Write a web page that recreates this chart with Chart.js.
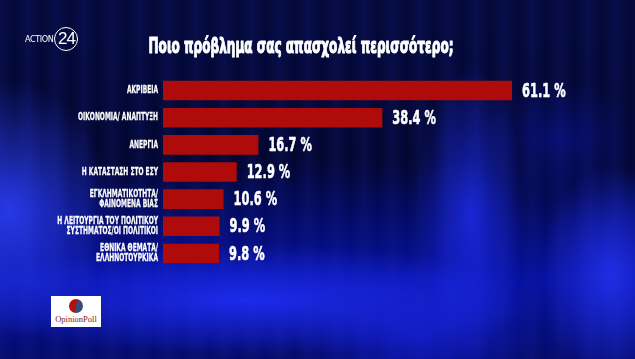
<!DOCTYPE html>
<html>
<head>
<meta charset="utf-8">
<script src="https://cdn.jsdelivr.net/npm/chart.js@4"></script>
<style>
  html, body { margin: 0; padding: 0; }
  body {
    width: 635px; height: 359px; overflow: hidden; position: relative;
    background:
      radial-gradient(ellipse 100px 130px at 10px 210px, rgba(45,65,255,0.85), rgba(0,0,0,0)),
      radial-gradient(ellipse 300px 55px at 250px 300px, rgba(30,45,245,0.9), rgba(0,0,0,0)),
      radial-gradient(ellipse 55px 150px at 470px 215px, rgba(30,45,240,0.8), rgba(0,0,0,0)),
      radial-gradient(ellipse 70px 110px at 610px 275px, rgba(35,50,240,0.85), rgba(0,0,0,0)),
      radial-gradient(ellipse 120px 70px at 420px 335px, rgba(20,30,210,0.8), rgba(0,0,0,0)),
      radial-gradient(ellipse 80px 60px at 560px 140px, rgba(10,20,150,0.6), rgba(0,0,0,0)),
      repeating-linear-gradient(90deg, rgba(30,40,160,0.18) 0px, rgba(0,0,0,0) 14px, rgba(30,40,160,0.18) 28px),
      linear-gradient(180deg, #030938 0%, #020630 45%, #0510a0 78%, #040b6a 100%);
  }
  canvas { position: absolute; left: 0; top: 0; }
  .action { position: absolute; left: 25px; top: 27px; color: #fff; font: 9px "DejaVu Sans Condensed", "DejaVu Sans", sans-serif; letter-spacing: -0.4px; }
  .action span { display: inline-block; width: 22px; height: 22px; border: 1.2px solid #fff; border-radius: 50%;
    font: 17px "Liberation Sans", sans-serif; letter-spacing: -1px; text-align: center; line-height: 22px; margin-left: 1px; vertical-align: middle; }
  .op { position: absolute; left: 51px; top: 296px; width: 50px; height: 31px; background: #fff; }
  .op .dot { position: absolute; left: 18px; top: 3px; width: 14px; height: 14px; border-radius: 50%;
    background: linear-gradient(100deg, #b51010 50%, #3a4a7a 50%); }
  .op .t { position: absolute; left: 0; width: 50px; top: 18px; text-align: center; color: #7a1a1a; font: 8.5px "Liberation Serif", serif; }
</style>
</head>
<body>
<canvas id="grafico" width="635" height="359"></canvas>
<div class="action">ACTION<span>24</span></div>
<div class="op"><div class="dot"></div><div class="t">OpinionPoll</div></div>
<script>
const titulo = 'Ποιο πρόβλημα σας απασχολεί περισσότερο;';
const categorias = [
  'ΑΚΡΙΒΕΙΑ',
  'ΟΙΚΟΝΟΜΙΑ/ ΑΝΑΠΤΥΞΗ',
  'ΑΝΕΡΓΙΑ',
  'Η ΚΑΤΑΣΤΑΣΗ ΣΤΟ ΕΣΥ',
  ['ΕΓΚΛΗΜΑΤΙΚΟΤΗΤΑ/', 'ΦΑΙΝΟΜΕΝΑ ΒΙΑΣ'],
  ['Η ΛΕΙΤΟΥΡΓΙΑ ΤΟΥ ΠΟΛΙΤΙΚΟΥ', 'ΣΥΣΤΗΜΑΤΟΣ/ΟΙ ΠΟΛΙΤΙΚΟΙ'],
  ['ΕΘΝΙΚΑ ΘΕΜΑΤΑ/', 'ΕΛΛΗΝΟΤΟΥΡΚΙΚΑ']
];
const valores = [61.1, 38.4, 16.7, 12.9, 10.6, 9.9, 9.8];

const fuente = '"DejaVu Sans", sans-serif';

// texto estrecho: escala horizontal, con trazo para engordar
function textoEstrecho(ctx, txt, x, y, esc, align, trazo) {
  const w = ctx.measureText(txt).width * esc;
  const x0 = align === 'right' ? x - w : align === 'center' ? x - w / 2 : x;
  ctx.save();
  ctx.translate(x0, y);
  ctx.scale(esc, 1);
  ctx.textAlign = 'left';
  ctx.fillText(txt, 0, 0);
  if (trazo) {
    ctx.lineWidth = trazo;
    ctx.lineJoin = 'round';
    ctx.strokeText(txt, 0, 0);
  }
  ctx.restore();
}

const textos = {
  id: 'textos',
  afterDatasetsDraw(chart) {
    const ctx = chart.ctx;
    const ejeY = chart.scales.y;
    ctx.save();
    ctx.fillStyle = '#ffffff';
    ctx.strokeStyle = '#ffffff';
    ctx.textBaseline = 'middle';

    // titulo
    ctx.font = 'bold 22px ' + fuente;
    const escT = 305 / ctx.measureText(titulo).width;
    textoEstrecho(ctx, titulo, 301, 47, escT, 'center', 1.2);

    // categorias
    ctx.font = 'bold 10.6px ' + fuente;
    categorias.forEach((c, i) => {
      const lineas = Array.isArray(c) ? c : [c];
      const yc = ejeY.getPixelForValue(i);
      lineas.forEach((l, j) => {
        const y = yc + (j - (lineas.length - 1) / 2) * 9.8;
        textoEstrecho(ctx, l, chart.chartArea.left - 5, y, 0.56, 'right', 0.3);
      });
    });

    // valores
    ctx.font = 'bold 20px ' + fuente;
    chart.getDatasetMeta(0).data.forEach((bar, i) => {
      textoEstrecho(ctx, valores[i].toFixed(1) + ' %', bar.x + 10, bar.y + 1, 0.57, 'left', 0.6);
    });
    ctx.restore();
  }
};

new Chart(document.getElementById('grafico'), {
  type: 'bar',
  data: {
    labels: categorias,
    datasets: [{
      data: valores,
      backgroundColor: '#b00b0b',
      barPercentage: 0.72,
      categoryPercentage: 1
    }]
  },
  options: {
    indexAxis: 'y',
    responsive: false,
    animation: false,
    layout: { padding: { top: 77, bottom: 92, left: 0, right: 15 } },
    plugins: { legend: { display: false }, tooltip: { enabled: false } },
    scales: {
      x: { display: false, min: 0, max: 80 },
      y: {
        afterFit: s => { s.width = 163; },
        grid: { display: false, drawTicks: false },
        border: { display: false },
        ticks: { display: false }
      }
    }
  },
  plugins: [textos]
});
</script>
</body>
</html>
